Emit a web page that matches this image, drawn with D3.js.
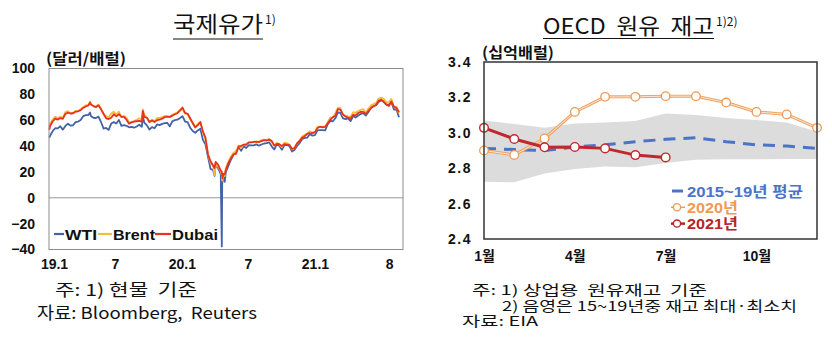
<!DOCTYPE html>
<html><head><meta charset="utf-8">
<script src="https://cdn.jsdelivr.net/npm/d3@7"></script>
<style>
body{margin:0;background:#fff;}
svg{display:block;}
text{font-family:"Liberation Sans","Noto Sans CJK KR",sans-serif;}
</style></head><body>
<svg id="c" width="832" height="360"></svg>
<script>
// ---------------- DATA: international oil prices (USD/bbl), weekly (Fridays) from 2019-01-04 ----------------
const oilWeekStart = "2019-01-04";
const wti = [
48.0,51.6,53.8,53.7,55.3,52.7,55.6,57.3,55.8,56.1,58.5,59.0,60.1,63.1,63.9,64.0,63.3,61.9,61.7,62.8,
58.6,53.5,54.0,52.5,57.4,58.5,57.5,60.2,55.6,56.2,55.7,54.5,54.9,54.2,55.1,56.5,54.9,58.1,56.0,52.8,
54.7,53.8,56.7,56.2,57.2,57.7,58.0,55.2,59.2,60.1,60.4,61.7,
63.1,59.0,58.5,54.2,51.6,50.3,52.1,53.4,44.8,41.3,31.7,22.4,21.5,25.5,22.8,18.3,16.9,19.8,24.7,29.4,
33.3,35.5,39.6,36.3,39.8,38.5,40.7,40.6,40.6,41.3,40.3,41.2,42.0,42.3,42.9,39.8,37.3,41.1,40.3,37.1,
40.6,40.9,39.9,35.8,37.1,40.1,42.4,45.5,46.3,46.6,49.1,48.1,
48.5,52.2,52.4,52.3,52.2,56.9,59.5,59.2,61.5,66.1,65.6,61.4,60.9,61.5,59.3,63.1,62.1,63.6,
64.9,65.4,63.6,66.3,69.6,70.9,71.6,74.1,75.5,74.6,72.0,72.1,73.9,68.3,68.4,62.3];
const brent = [
57.1,60.5,62.7,61.6,62.8,62.1,66.3,67.1,65.1,65.7,67.2,67.0,68.4,70.3,71.6,71.9,72.2,70.9,70.6,72.2,
68.7,64.5,63.3,62.0,65.2,66.6,64.2,66.7,62.5,63.5,61.9,58.5,58.6,59.3,60.4,61.5,60.2,64.3,61.9,58.4,
60.5,59.4,61.7,61.7,62.5,63.3,63.4,62.4,64.4,65.2,66.1,68.2,
68.6,65.0,64.9,60.7,58.2,54.5,57.3,58.5,50.5,45.3,33.9,27.0,24.9,26.0,24.0,20.5,16.5,23.0,28.0,32.0,
34.8,36.0,40.5,38.5,41.5,40.8,42.8,42.9,43.2,43.4,43.3,44.6,45.0,44.6,45.6,43.0,40.2,42.5,41.5,39.2,
42.6,42.3,41.2,37.4,38.5,42.0,44.4,47.6,48.6,49.8,51.5,50.5,
50.7,55.0,54.8,55.0,55.2,58.7,61.9,62.2,65.5,69.8,69.5,63.8,63.5,62.9,62.5,66.2,65.7,67.1,
68.0,68.5,65.8,69.0,71.5,72.5,73.4,76.8,77.5,76.5,74.0,74.1,76.5,70.4,70.3,65.2];
const dubai = [
55.4,59.0,61.2,60.5,61.6,61.1,64.9,65.8,65.2,65.4,66.6,66.9,67.8,69.5,70.6,71.4,72.3,70.9,70.1,71.5,
68.4,65.0,61.4,60.9,61.9,64.6,63.0,64.7,62.6,62.6,60.4,57.3,58.3,58.9,59.2,59.4,59.0,62.4,62.0,58.6,
59.8,58.6,60.0,60.5,61.2,62.4,62.6,62.6,63.5,64.6,65.4,67.4,
69.8,65.7,65.0,61.5,57.6,54.4,56.2,58.6,51.3,46.5,33.5,28.3,25.0,27.8,25.5,21.0,18.5,21.5,26.9,30.5,
33.5,34.0,39.5,40.1,41.0,41.2,42.8,42.8,43.3,43.4,43.0,43.9,44.6,44.3,45.0,44.0,40.5,41.6,41.5,40.1,
41.5,41.2,40.8,37.8,38.5,42.2,44.0,46.5,47.7,49.5,50.0,50.0,
50.8,54.0,55.0,54.5,54.8,57.5,60.3,62.4,63.3,68.5,68.2,64.5,62.8,62.0,61.3,64.2,63.8,65.6,
66.4,66.4,64.9,67.2,69.3,70.8,71.8,75.0,76.0,74.0,72.2,71.0,74.5,70.5,69.6,66.2];
// extra daily observations (spikes / crash)
const extraDates = ["2019-01-02","2019-04-24","2019-09-16","2020-03-31","2020-04-20","2020-04-21","2020-04-22","2020-04-28"];
const extraWti   = [46.5, 65.9, 62.9, 17.0, -37.6, 10.0, 13.8, 12.3];
const extraBrent = [54.9, 74.6, 68.4, 17.5, 17.4, 13.2, 13.5, 17.0];
const extraDubai = [52.6, 73.6, 67.2, 23.0, 20.0, 17.0, 15.0, 18.0];
const oilTickDates  = ["2019-01-01","2019-07-01","2020-01-01","2020-07-01","2021-01-01","2021-08-01"];
const oilTickLabels = ["19.1","7","20.1","7","21.1","8"];
const oilYTicks = [-40,-20,0,20,40,60,80,100];
const oilSeriesNames = ["WTI","Brent","Dubai"];

// ---------------- DATA: OECD crude inventories (billion bbl) ----------------
const months = [1,2,3,4,5,6,7,8,9,10,11,12];
const stockMonthTicks = [1,4,7,10];
const stockMonthLabels = ["1월","4월","7월","10월"];
const avg1519 = [2.912,2.905,2.900,2.920,2.932,2.950,2.963,2.972,2.950,2.932,2.925,2.912];
const max1519 = [3.070,3.050,3.028,3.053,3.058,3.066,3.109,3.100,3.083,3.072,3.058,3.006];
const min1519 = [2.724,2.720,2.770,2.795,2.810,2.805,2.830,2.848,2.850,2.850,2.852,2.852];
const stock2020 = [2.900,2.875,2.968,3.118,3.203,3.203,3.207,3.207,3.171,3.118,3.104,3.028];
const stock2021 = [3.028,2.965,2.918,2.920,2.912,2.874,2.861];
const stockYTicks = [2.4,2.6,2.8,3.0,3.2,3.4];
const stockLegend = ["2015~19년 평균","2020년","2021년"];

// ---------------- DRAW ----------------
const svg = d3.select("#c");
const pd = d3.timeParse("%Y-%m-%d");
const KR = '"Noto Sans CJK KR",sans-serif';
const LIB = '"Liberation Sans","Noto Sans CJK KR",sans-serif';

function txt(x, y, s, size, opts = {}) {
  const t = svg.append("text").attr("x", x).attr("y", y).text(s)
    .attr("font-size", size).attr("fill", opts.fill || "#111")
    .attr("font-weight", opts.bold ? "bold" : "normal")
    .style("font-family", opts.family || KR);
  if (opts.pre) t.attr("xml:space", "preserve").style("white-space", "pre");
  if (opts.len) t.attr("textLength", opts.len).attr("lengthAdjust", "spacingAndGlyphs");
  return t;
}

// ===== Left chart =====
const xL = d3.scaleTime().domain([pd("2019-01-01"), pd("2021-08-31")]).range([49, 403]);
const yL = d3.scaleLinear().domain([-40, 100]).range([249.5, 68.5]);

function buildSeries(weekly, extras) {
  const s = weekly.map((v, i) => ({date: d3.timeDay.offset(pd(oilWeekStart), 7 * i), v}));
  extras.forEach((v, i) => s.push({date: pd(extraDates[i]), v}));
  return s.sort((a, b) => a.date - b.date);
}
const oilSeries = [
  {name: oilSeriesNames[0], color: "#4263a8", data: buildSeries(wti, extraWti)},
  {name: oilSeriesNames[1], color: "#f6bd3a", data: buildSeries(brent, extraBrent)},
  {name: oilSeriesNames[2], color: "#e8321f", data: buildSeries(dubai, extraDubai)}
];

svg.append("line").attr("x1", 49).attr("x2", 403).attr("y1", yL(0)).attr("y2", yL(0))
  .attr("stroke", "#9a9a9a").attr("stroke-width", 1);

const lineL = d3.line().x(d => xL(d.date)).y(d => yL(d.v));
oilSeries.forEach(s => {
  svg.append("path").datum(s.data).attr("d", lineL).attr("fill", "none")
    .attr("stroke", s.color).attr("stroke-width", 1.8).attr("stroke-linejoin", "round");
});
svg.append("rect").attr("x", 49).attr("y", 68.5).attr("width", 354).attr("height", 181)
  .attr("fill", "none").attr("stroke", "#8c8c8c").attr("stroke-width", 1);

const yAxL = svg.append("g").attr("transform", "translate(49,0)")
  .call(d3.axisLeft(yL).tickValues(oilYTicks).tickSize(0).tickPadding(14));
yAxL.select(".domain").remove();
yAxL.selectAll("text").attr("font-size", 14).attr("font-weight", "bold").attr("fill", "#111")
  .style("font-family", '"Liberation Sans",sans-serif');

const xAxL = svg.append("g").attr("transform", "translate(0,249.5)")
  .call(d3.axisBottom(xL).tickValues(oilTickDates.map(pd)).tickFormat((d, i) => oilTickLabels[i]).tickSize(0).tickPadding(10));
xAxL.select(".domain").remove();
xAxL.selectAll("text").attr("font-size", 14).attr("font-weight", "bold").attr("fill", "#111")
  .style("font-family", '"Liberation Sans",sans-serif')
  .attr("dx", (d, i) => i === 0 ? 5 : (i === 5 ? -3 : 0));

txt(46, 64, "(달러/배럴)", 15, {bold: true, len: 80});

// legend left
const legLayout = [{lx: 54, tx: 65, w: 32}, {lx: 98, tx: 113, w: 42}, {lx: 155, tx: 172, w: 46}];
oilSeries.forEach((s, i) => {
  const L = legLayout[i];
  svg.append("line").attr("x1", L.lx).attr("x2", L.tx - 1).attr("y1", 234).attr("y2", 234)
    .attr("stroke", s.color).attr("stroke-width", 2.2);
  txt(L.tx, 239.5, s.name, 15.5, {bold: true, family: LIB, len: L.w});
});

// title left
txt(173, 32, "국제유가", 22, {len: 90});
svg.append("line").attr("x1", 173).attr("x2", 263).attr("y1", 39).attr("y2", 39).attr("stroke", "#111").attr("stroke-width", 1.2);
txt(265, 24, "1)", 12);

// footnotes left
txt(55, 296, "주: 1) 현물  기준", 16.5, {pre: true, len: 142});
txt(37, 318.5, "자료: Bloomberg,  Reuters", 16.5, {pre: true, len: 220});

// ===== Right chart =====
const xR = d3.scaleLinear().domain([1, 12]).range([484, 817]);
const yR = d3.scaleLinear().domain([2.4, 3.4]).range([239, 62]);

const band = months.map((m, i) => ({m, lo: min1519[i], hi: max1519[i]}));
svg.append("path").datum(band)
  .attr("d", d3.area().x(d => xR(d.m)).y0(d => yR(d.lo)).y1(d => yR(d.hi)))
  .attr("fill", "#dcdcdc");

const lineR = d3.line().x(d => xR(d.m)).y(d => yR(d.v));
svg.append("path").datum(months.map((m, i) => ({m, v: avg1519[i]})))
  .attr("d", lineR).attr("fill", "none").attr("stroke", "#4a74c6").attr("stroke-width", 3)
  .attr("stroke-dasharray", "12,8");

const d2020 = months.map((m, i) => ({m, v: stock2020[i]}));
svg.append("path").datum(d2020).attr("d", lineR).attr("fill", "none").attr("stroke", "#f0a263").attr("stroke-width", 3);
svg.append("path").datum(d2020).attr("d", lineR).attr("fill", "none").attr("stroke", "#fde6d2").attr("stroke-width", 1);
svg.selectAll(".p20").data(d2020).enter().append("circle")
  .attr("cx", d => xR(d.m)).attr("cy", d => yR(d.v)).attr("r", 4.3)
  .attr("fill", "#fff").attr("stroke", "#ee9a58").attr("stroke-width", 1.3);

const d2021 = stock2021.map((v, i) => ({m: months[i], v}));
svg.append("path").datum(d2021).attr("d", lineR).attr("fill", "none").attr("stroke", "#c0282c").attr("stroke-width", 3);
svg.selectAll(".p21").data(d2021).enter().append("circle")
  .attr("cx", d => xR(d.m)).attr("cy", d => yR(d.v)).attr("r", 4.3)
  .attr("fill", "#fff").attr("stroke", "#c0282c").attr("stroke-width", 1.4);

svg.append("rect").attr("x", 484).attr("y", 62).attr("width", 333).attr("height", 177)
  .attr("fill", "none").attr("stroke", "#333").attr("stroke-width", 1.5);

const yAxR = svg.append("g").attr("transform", "translate(484,0)")
  .call(d3.axisLeft(yR).tickValues(stockYTicks).tickFormat(d3.format(".1f")).tickSize(0).tickPadding(12));
yAxR.select(".domain").remove();
yAxR.selectAll("text").attr("font-size", 14).attr("font-weight", "bold").attr("fill", "#111")
  .attr("letter-spacing", 1.5).style("font-family", '"Liberation Sans",sans-serif');

const xAxR = svg.append("g").attr("transform", "translate(0,239)")
  .call(d3.axisBottom(xR).tickValues(stockMonthTicks).tickFormat((d, i) => stockMonthLabels[i]).tickSize(0).tickPadding(12));
xAxR.select(".domain").remove();
xAxR.selectAll("text").attr("font-size", 14).attr("font-weight", "bold").attr("fill", "#111");

txt(482, 58, "(십억배럴)", 15, {bold: true, len: 72});

// legend right
const legR = [
  {label: stockLegend[0], color: "#4a74c6", type: "dash", w: 116},
  {label: stockLegend[1], color: "#ef9a55", type: "c20", w: 51},
  {label: stockLegend[2], color: "#b8242a", type: "c21", w: 51}
];
legR.forEach((l, i) => {
  const y = 191 + i * 16.3;
  if (l.type === "dash") {
    svg.append("line").attr("x1", 672).attr("x2", 683).attr("y1", y).attr("y2", y).attr("stroke", l.color).attr("stroke-width", 3);
  } else {
    svg.append("line").attr("x1", 671).attr("x2", 685).attr("y1", y).attr("y2", y).attr("stroke", l.color).attr("stroke-width", l.type === "c21" ? 2.5 : 1.5);
    svg.append("circle").attr("cx", 677).attr("cy", y).attr("r", 3.6).attr("fill", "#fff").attr("stroke", l.color).attr("stroke-width", 1.3);
  }
  txt(687, y + 5.5, l.label, 15, {bold: true, fill: l.color, family: LIB, len: l.w});
});

// title right
txt(543, 34, "OECD  원유  재고", 22, {pre: true, len: 171});
svg.append("line").attr("x1", 543).attr("x2", 714).attr("y1", 38.5).attr("y2", 38.5).attr("stroke", "#111").attr("stroke-width", 1.2);
txt(716, 26, "1)2)", 12);

// footnotes right
txt(472, 295, "주: 1) 상업용  원유재고  기준", 13.5, {pre: true, len: 235});
txt(502, 310.5, "2) 음영은 15~19년중 재고 최대·최소치", 13.5, {pre: true, len: 295});
txt(462, 326, "자료: EIA", 13.5, {pre: true, len: 76});
</script>
</body></html>
